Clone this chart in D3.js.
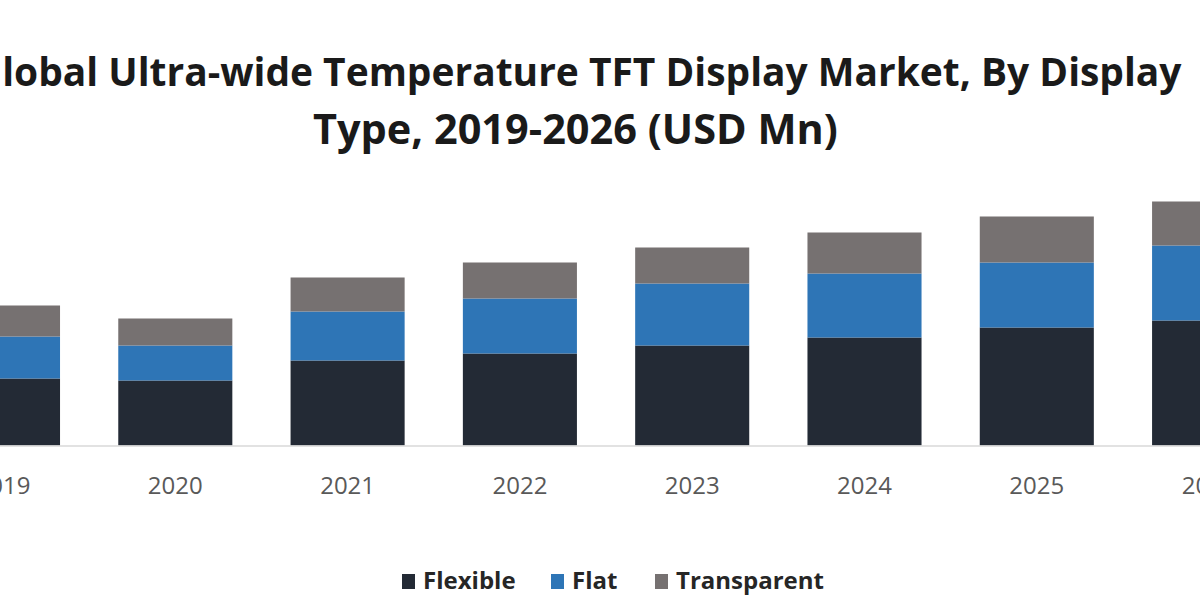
<!DOCTYPE html>
<html>
<head>
<meta charset="utf-8">
<script src="https://cdn.jsdelivr.net/npm/d3@7"></script>
<style>
  html, body { margin: 0; padding: 0; background: #ffffff; }
  svg { display: block; }
</style>
</head>
<body>
<svg id="chart" width="1200" height="600"></svg>
<script>
// ---- data ----
const years = ["2019", "2020", "2021", "2022", "2023", "2024", "2025", "2026"];
const seriesNames = ["Flexible", "Flat", "Transparent"];
const flexible    = [67, 65, 85, 92, 100, 108, 118, 125];
const flat        = [42, 35, 49, 55, 62, 64, 65, 75];
const transparent = [31, 27, 34, 36, 36, 41, 46, 44];
const titleLines = [
  "Global Ultra-wide Temperature TFT Display Market, By Display",
  "Type, 2019-2026 (USD Mn)"
];

const colors = { Flexible: "#232a35", Flat: "#2e75b6", Transparent: "#767171" };

const rows = years.map((y, i) => ({
  year: y, Flexible: flexible[i], Flat: flat[i], Transparent: transparent[i]
}));

const svg = d3.select("#chart");
const W = 1200, H = 600;

// ---- scales ----
const step = 172.3;
const x = d3.scaleBand()
  .domain(years)
  .range([3 - step / 2, 3 - step / 2 + step * years.length])
  .paddingInner(0.338)
  .paddingOuter(0.169);

const baseY = 445.5;
const y = d3.scaleLinear().domain([0, 250]).range([baseY, baseY - 250]);

const stack = d3.stack().keys(seriesNames);
const stacked = stack(rows);

// ---- bars ----
svg.append("g")
  .selectAll("g")
  .data(stacked)
  .join("g")
  .attr("fill", d => colors[d.key])
  .selectAll("rect")
  .data(d => d)
  .join("rect")
  .attr("x", d => x(d.data.year))
  .attr("width", x.bandwidth())
  .attr("y", d => y(d[1]))
  .attr("height", d => y(d[0]) - y(d[1]));

// ---- x axis ----
const xAxis = d3.axisBottom(x).tickSize(0).tickPadding(0);
const ax = svg.append("g")
  .attr("transform", `translate(0,${baseY})`)
  .call(xAxis);
ax.select(".domain").remove();
ax.append("line")
  .attr("x1", 0).attr("x2", W)
  .attr("y1", 0.5).attr("y2", 0.5)
  .attr("stroke", "#d9d9d9").attr("stroke-width", 1.5);
ax.selectAll(".tick text")
  .attr("y", 48)
  .attr("dy", 0)
  .attr("fill", "#595959")
  .style("font-family", "'Open Sans', 'Noto Sans', sans-serif")
  .style("font-size", "24px");

// ---- title ----
const titleFont = "'Open Sans', 'Noto Sans', sans-serif";
const t1 = svg.append("text")
  .attr("x", 0).attr("y", 86)
  .attr("fill", "#1a1a1a")
  .style("font-family", titleFont)
  .style("font-weight", "bold")
  .style("font-size", "36px")
  .text(titleLines[0]);
// fit line 1 to span -26 .. 1182
{
  const target = 1182 - (-26);
  const w = t1.node().getComputedTextLength();
  const fs = 36 * target / w;
  t1.style("font-size", fs + "px").attr("x", -26);
}
const t2 = svg.append("text")
  .attr("x", 0).attr("y", 144)
  .attr("fill", "#1a1a1a")
  .style("font-family", titleFont)
  .style("font-weight", "bold")
  .style("font-size", "36px")
  .text(titleLines[1]);
{
  const target = 838 - 313;
  const w = t2.node().getComputedTextLength();
  const fs = 36 * target / w;
  t2.style("font-size", fs + "px").attr("x", 313);
}

// ---- legend ----
const legendX = [402, 551, 655];
const lg = svg.append("g").attr("transform", "translate(0,589)");
seriesNames.forEach((name, i) => {
  const g = lg.append("g").attr("transform", `translate(${legendX[i]},0)`);
  g.append("rect")
    .attr("x", 0).attr("y", -15)
    .attr("width", 13).attr("height", 15)
    .attr("fill", colors[name]);
  g.append("text")
    .attr("x", 21).attr("y", 0)
    .attr("fill", "#262626")
    .style("font-family", "'Open Sans', 'Noto Sans', sans-serif")
    .style("font-weight", "bold")
    .style("font-size", "24px")
    .text(name);
});
</script>
</body>
</html>
